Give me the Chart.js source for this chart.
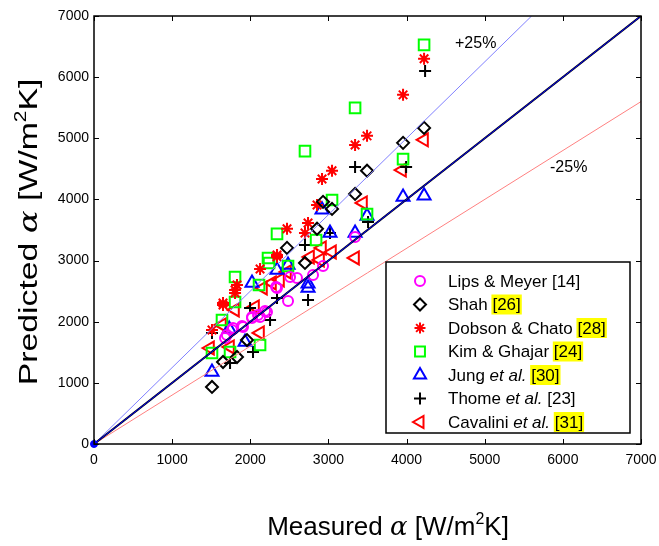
<!DOCTYPE html>
<html lang="en">
<head>
  <meta charset="UTF-8" />
  <title>Predicted vs Measured</title>
  <script src="https://cdn.jsdelivr.net/npm/chart.js"></script>
  <style>
    body {
      margin: 0;
      background: #ffffff;
    }
    canvas {
      display: block;
    }
  </style>
</head>
<body>
  <canvas id="parityChart" width="659" height="546"></canvas>

  <script>
    // tick values shared by both axes
    const axisTicks = [0, 1000, 2000, 3000, 4000, 5000, 6000, 7000];

    // [measured, predicted] pairs
    const lipsMeyer = [[1677,1734],[1700,1783],[1766,1865],[1779,1898],[1894,1930],[1907,1914],[2022,2061],[2022,2078],
      [2099,2110],[2125,2078],[2189,2176],[2214,2160],[2330,2569],[2342,2552],[2483,2340],[2509,2732],
      [2598,2716],[2803,2765],[2931,2912],[3341,3387]];
    const shah = [[1510,933],[1651,1341],[1830,1423],[1958,1700],[2470,3207],[2700,2961],[2854,3520],[2931,3960],
      [3046,3845],[3341,4090],[3494,4470],[3955,4925],[4224,5170]];
    const dobsonChato = [[1510,1865],[1651,2274],[1651,2307],[1805,2470],[1805,2520],[1830,2601],[2125,2863],[2342,3060],
      [2342,3092],[2470,3520],[2700,3450],[2739,3615],[2854,3910],[2918,4335],[3046,4470],[3341,4890],
      [3494,5040],[3955,5710],[4224,6300]];
    const kimGhajar = [[1510,1489],[1638,2028],[1741,1505],[1805,2323],[1805,2732],[2112,2600],[2125,1620],[2227,3043],
      [2240,2960],[2342,3436],[2483,2912],[2700,4790],[2842,3337],[3046,3990],[3341,5497],[3494,3760],
      [3955,4660],[4224,6528]];
    const jung = [[1510,1178],[1730,1880],[1933,1669],[2022,2634],[2342,2847],[2483,2928],[2739,2552],[2739,2620],
      [2918,3830],[3020,3450],[3341,3450],[3494,3730],[3955,4040],[4224,4060]];
    const thome = [[1510,1816],[1741,1325],[1997,2225],[2035,1505],[2253,2028],[2342,2388],[2739,2356],[2700,3255],
      [3020,3450],[3341,4530],[3507,3630],[3994,4530],[4237,6100]];
    const cavalini = [[1485,1570],[1638,1947],[1741,1587],[1805,2192],[2061,2241],[2125,1816],[2163,2552],[2278,2634],
      [2381,2683],[2470,2814],[2765,3060],[2893,3010],[2918,3207],[3046,3140],[3341,3043],[3443,3943],
      [3942,4480],[4224,4975]];

    // reference lines: perfect agreement, +25% and -25%
    const parityLine = [[0,0],[7000,7000]];
    const plus25Line = [[0,0],[5600,7000]];
    const minus25Line = [[0,0],[7000,5600]];
    const originPoint = [[0,0]];

    const toXY = arr => arr.map(p => ({ x: p[0], y: p[1] }));

    // legend: label pieces -> [text, style]  (n = normal, i = italic, h = highlighted)
    const legendEntries = [
      { color: '#ff00ff', style: 'circle', radius: 5, rot: 0, parts: [['Lips & Meyer [14]', 'n']] },
      { color: '#000000', style: 'rectRot', radius: 6, rot: 0, parts: [['Shah ', 'n'], ['[26]', 'h']] },
      { color: '#ff0000', style: 'star', radius: 5.5, rot: 0, parts: [['Dobson & Chato ', 'n'], ['[28]', 'h']] },
      { color: '#00ff00', style: 'rect', radius: 7, rot: 0, parts: [['Kim & Ghajar ', 'n'], ['[24]', 'h']] },
      { color: '#0000ff', style: 'triangle', radius: 7, rot: 0, parts: [['Jung ', 'n'], ['et al.', 'i'], [' ', 'n'], ['[30]', 'h']] },
      { color: '#000000', style: 'cross', radius: 6, rot: 0, parts: [['Thome ', 'n'], ['et al.', 'i'], [' [23]', 'n']] },
      { color: '#ff0000', style: 'triangle', radius: 7, rot: -90, parts: [['Cavalini ', 'n'], ['et al.', 'i'], [' ', 'n'], ['[31]', 'h']] }
    ];

    const SANS = '"Liberation Sans", Arial, sans-serif';

    function markerSet(label, pts, color, style, radius, rotation) {
      return {
        type: 'scatter',
        label: label,
        data: toXY(pts),
        pointStyle: style,
        pointRadius: radius,
        pointHoverRadius: radius,
        pointRotation: rotation || 0,
        pointBorderColor: color,
        pointBackgroundColor: 'rgba(0,0,0,0)',
        pointBorderWidth: 2,
        order: 5
      };
    }

    function refLine(pts, color, width, order) {
      return {
        type: 'line',
        data: toXY(pts),
        borderColor: color,
        borderWidth: width,
        pointRadius: 0,
        fill: false,
        order: order
      };
    }

    // draws a run of text pieces (font, text, baseline shift) starting at x
    function drawRich(ctx, pieces, x, y) {
      let cx = x;
      pieces.forEach(p => {
        ctx.font = p.font;
        ctx.fillText(p.text, cx, y + (p.dy || 0));
        cx += ctx.measureText(p.text).width;
      });
      return cx - x;
    }
    function richWidth(ctx, pieces) {
      let w = 0;
      pieces.forEach(p => { ctx.font = p.font; w += ctx.measureText(p.text).width; });
      return w;
    }

    function titlePieces(word) {
      const f = '26px ' + SANS;
      return [
        { text: word + ' ', font: f },
        { text: 'α', font: 'italic 26px "DejaVu Serif", serif' },
        { text: ' [W/m', font: f },
        { text: '2', font: '16px ' + SANS, dy: -11 },
        { text: 'K]', font: f }
      ];
    }

    const framePlugin = {
      id: 'frame',
      afterDraw(chart) {
        const ctx = chart.ctx;
        const a = chart.chartArea;
        const xs = chart.scales.x, ys = chart.scales.y;
        ctx.save();

        // inward tick marks on all four sides
        ctx.strokeStyle = '#000';
        ctx.lineWidth = 1;
        axisTicks.forEach(v => {
          const px = Math.round(xs.getPixelForValue(v)) + 0.5;
          const py = Math.round(ys.getPixelForValue(v)) + 0.5;
          ctx.beginPath();
          ctx.moveTo(px, a.bottom); ctx.lineTo(px, a.bottom - 5);
          ctx.moveTo(px, a.top); ctx.lineTo(px, a.top + 5);
          ctx.moveTo(a.left, py); ctx.lineTo(a.left + 5, py);
          ctx.moveTo(a.right, py); ctx.lineTo(a.right - 5, py);
          ctx.stroke();
        });

        // box
        ctx.lineWidth = 1.5;
        ctx.strokeRect(a.left, a.top, a.right - a.left, a.bottom - a.top);

        // band labels
        ctx.fillStyle = '#000';
        ctx.font = '16px ' + SANS;
        ctx.textBaseline = 'middle';
        ctx.textAlign = 'left';
        ctx.fillText('+25%', 455, 44);
        ctx.fillText('-25%', 550, 168);

        // legend
        const lx = 386, ly = 262, lw = 244, lh = 171;
        ctx.fillStyle = '#fff';
        ctx.fillRect(lx, ly, lw, lh);
        ctx.lineWidth = 1.5;
        ctx.strokeStyle = '#000';
        ctx.strokeRect(lx, ly, lw, lh);

        legendEntries.forEach((e, i) => {
          const ry = 281 + i * 23.5;
          ctx.strokeStyle = e.color;
          ctx.fillStyle = 'rgba(0,0,0,0)';
          ctx.lineWidth = 2;
          Chart.helpers.drawPoint(ctx, { pointStyle: e.style, radius: e.radius, rotation: e.rot, borderWidth: 2 }, 420, ry);

          let tx = 448;
          ctx.textBaseline = 'middle';
          e.parts.forEach(([t, s]) => {
            ctx.font = (s === 'i' ? 'italic ' : '') + '17px ' + SANS;
            const w = ctx.measureText(t).width;
            if (s === 'h') {
              ctx.fillStyle = '#ffff00';
              ctx.fillRect(tx - 1, ry - 10, w + 2, 20);
            }
            ctx.fillStyle = '#000';
            ctx.fillText(t, tx, ry + 1);
            tx += w;
          });
        });

        // axis titles
        ctx.fillStyle = '#000';
        ctx.textBaseline = 'alphabetic';
        const xp = titlePieces('Measured');
        drawRich(ctx, xp, 388 - richWidth(ctx, xp) / 2, 535);

        // y title is drawn longer along the axis, as in the picture
        const yp = titlePieces('Predicted');
        ctx.translate(37, 232);
        ctx.rotate(-Math.PI / 2);
        ctx.scale(1.3, 1);
        drawRich(ctx, yp, -richWidth(ctx, yp) / 2, 0);

        ctx.restore();
      }
    };

    const tickFont = { family: SANS, size: 14 };

    new Chart(document.getElementById('parityChart'), {
      type: 'scatter',
      data: {
        datasets: [
          refLine(parityLine, '#000000', 2, 1),
          refLine(parityLine, '#0000ff', 1, 0),
          refLine(plus25Line, '#8080ff', 1, 2),
          refLine(minus25Line, '#ff8080', 1, 2),
          {
            type: 'scatter', data: toXY(originPoint), pointRadius: 3.5, pointBackgroundColor: '#0000ff',
            pointBorderColor: '#0000ff', clip: false, order: 0
          },
          markerSet('Lips & Meyer [14]', lipsMeyer, '#ff00ff', 'circle', 5),
          markerSet('Shah [26]', shah, '#000000', 'rectRot', 6),
          markerSet('Dobson & Chato [28]', dobsonChato, '#ff0000', 'star', 6),
          markerSet('Kim & Ghajar [24]', kimGhajar, '#00ff00', 'rect', 7.5),
          markerSet('Jung et al. [30]', jung, '#0000ff', 'triangle', 7.5),
          markerSet('Thome et al. [23]', thome, '#000000', 'cross', 6),
          markerSet('Cavalini et al. [31]', cavalini, '#ff0000', 'triangle', 7.5, -90)
        ]
      },
      options: {
        responsive: false,
        animation: false,
        layout: { padding: { top: 16, right: 18, left: 0, bottom: 0 } },
        plugins: {
          legend: { display: false },
          tooltip: { enabled: false }
        },
        scales: {
          x: {
            type: 'linear',
            min: 0, max: 7000,
            afterBuildTicks: s => { s.ticks = axisTicks.map(v => ({ value: v })); },
            afterFit: s => { s.height = 102; s.paddingLeft = 0; s.paddingRight = 0; },
            grid: { display: false, drawTicks: false },
            border: { display: false },
            ticks: { color: '#000', font: tickFont, padding: 8, maxRotation: 0, callback: v => String(v) }
          },
          y: {
            type: 'linear',
            min: 0, max: 7000,
            afterBuildTicks: s => { s.ticks = axisTicks.map(v => ({ value: v })); },
            afterFit: s => { s.width = 94; s.paddingTop = 0; s.paddingBottom = 0; },
            grid: { display: false, drawTicks: false },
            border: { display: false },
            ticks: { color: '#000', font: tickFont, padding: 5, callback: v => String(v) }
          }
        }
      },
      plugins: [framePlugin]
    });
  </script>
</body>
</html>
